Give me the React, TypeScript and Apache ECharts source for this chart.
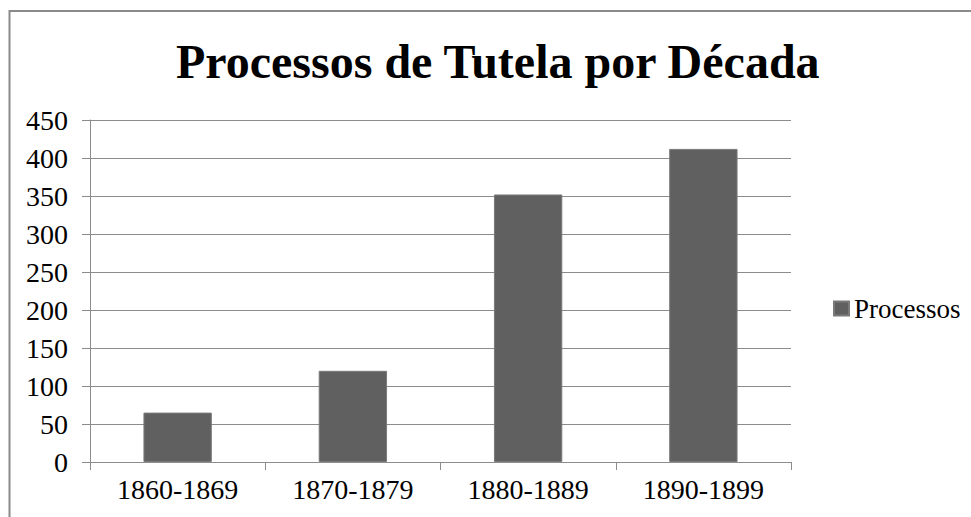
import React, { useEffect, useRef } from "react";
import * as echarts from "echarts";

const categories = ["1860-1869", "1870-1879", "1880-1889", "1890-1899"];
const processos = [65, 120, 352, 412];
const seriesName = "Processos";
const titleText = "Processos de Tutela por Década";

export default function App() {
  const ref = useRef<HTMLDivElement>(null);
  useEffect(() => {
    document.body.style.margin = "0";
    const chart = echarts.init(ref.current!, null, { renderer: "svg" });
    const font = "Liberation Serif";
    chart.setOption({
      animation: false,
      backgroundColor: "#ffffff",
      textStyle: { fontFamily: font },
      title: {
        text: titleText,
        left: 171,
        top: 32,
        textStyle: { fontFamily: font, fontWeight: "bold", fontSize: 48, color: "#000" },
      },
      graphic: [
        {
          type: "rect",
          shape: { x: 9.5, y: 11, width: 1000, height: 600 },
          style: { fill: "none", stroke: "#8a8a8a", lineWidth: 2 },
          silent: true,
        },
      ],
      legend: {
        data: [seriesName],
        left: 833,
        top: 295,
        padding: 0,
        itemWidth: 15,
        itemHeight: 14,
        icon: "rect",
        textStyle: { fontFamily: font, fontSize: 27, color: "#000" },
      },
      grid: { left: 90, right: 180, top: 120, bottom: 55 },
      xAxis: {
        type: "category",
        data: categories,
        axisLine: { lineStyle: { color: "#8c8c8c", width: 1 } },
        axisTick: { show: true, length: 8, lineStyle: { color: "#8c8c8c" } },
        axisLabel: { fontFamily: font, fontSize: 28, color: "#000", margin: 13 },
      },
      yAxis: {
        type: "value",
        min: 0,
        max: 450,
        interval: 50,
        axisLine: { show: true, lineStyle: { color: "#8c8c8c", width: 1 } },
        axisTick: { show: true, length: 8, lineStyle: { color: "#8c8c8c" } },
        axisLabel: { fontFamily: font, fontSize: 28, color: "#000", margin: 22 },
        splitLine: { lineStyle: { color: "#8c8c8c", width: 1 } },
      },
      series: [
        {
          name: seriesName,
          type: "bar",
          data: processos,
          barWidth: "39%",
          itemStyle: { color: "#606060", borderColor: "#7a7a7a", borderWidth: 1 },
        },
      ],
    });
    return () => chart.dispose();
  }, []);
  return <div ref={ref} style={{ width: 971, height: 517 }} />;
}
